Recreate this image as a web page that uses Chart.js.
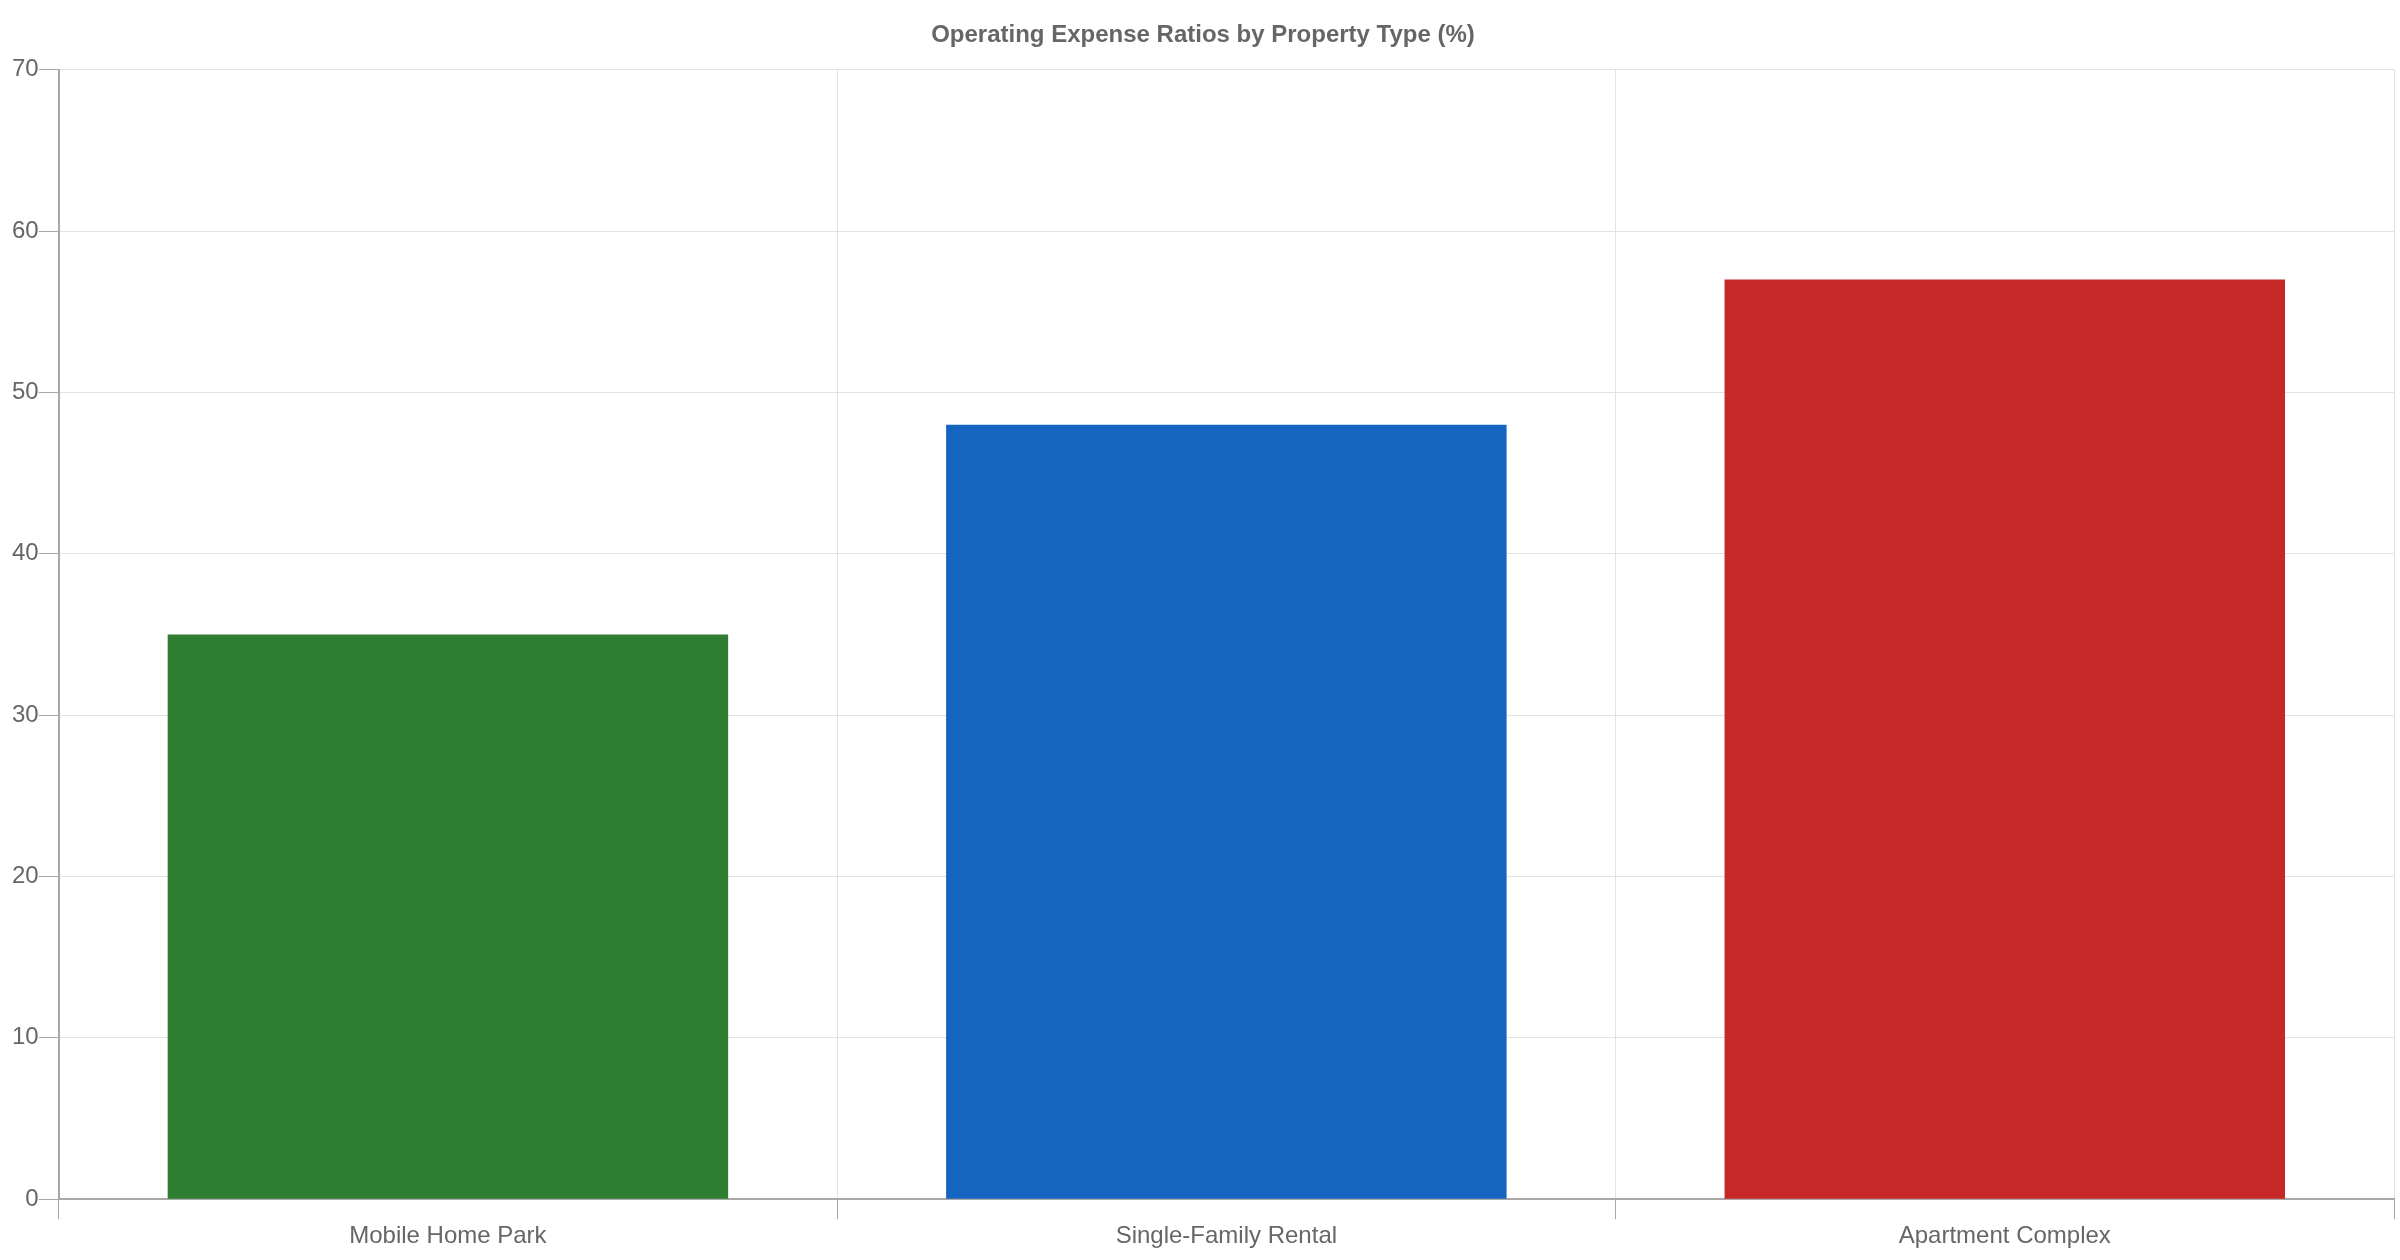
<!DOCTYPE html>
<html>
<head>
<meta charset="utf-8">
<title>Operating Expense Ratios</title>
<script src="https://cdn.jsdelivr.net/npm/chart.js@4.4.1/dist/chart.umd.min.js"></script>
<style>
  html, body { margin: 0; padding: 0; background: #ffffff; }
  #wrap { width: 2400px; height: 1260px; }
</style>
</head>
<body>
<div id="wrap"><canvas id="expenseChart" width="2400" height="1260"></canvas></div>
<script>
'use strict';

// Data
const propertyTypes = ['Mobile Home Park', 'Single-Family Rental', 'Apartment Complex'];
const expenseRatios = [35, 48, 57];
const barColors = ['#2e7d32', '#1565c0', '#c62828'];
const yTicks = [0, 10, 20, 30, 40, 50, 60, 70];

const textColor = '#666666';
const gridColor = '#e2e2e2';
const axisColor = '#a8a8a8';

Chart.defaults.font.family = '"Liberation Sans", Arial, Helvetica, sans-serif';
Chart.defaults.color = textColor;

const ctx = document.getElementById('expenseChart').getContext('2d');

const barChart = new Chart(ctx, {
  type: 'bar',
  data: {
    labels: propertyTypes,
    datasets: [{
      label: 'Operating Expense Ratio (%)',
      data: expenseRatios,
      backgroundColor: barColors,
      borderWidth: 0,
      categoryPercentage: 0.8,
      barPercentage: 0.9
    }]
  },
  options: {
    responsive: false,
    animation: false,
    devicePixelRatio: 1,
    layout: {
      padding: { left: 12, right: 6, top: 0, bottom: 6 }
    },
    plugins: {
      legend: { display: false },
      tooltip: { enabled: false },
      title: {
        display: true,
        text: 'Operating Expense Ratios by Property Type (%)',
        color: textColor,
        font: { size: 24, weight: 'bold' },
        padding: { top: 21, bottom: 20 }
      }
    },
    scales: {
      x: {
        grid: {
          color: gridColor,
          tickLength: 20,
          tickColor: axisColor
        },
        border: { color: axisColor, width: 2 },
        ticks: { font: { size: 24 }, color: textColor, padding: 3 }
      },
      y: {
        min: 0,
        max: 70,
        afterBuildTicks: function(axis) {
          axis.ticks = yTicks.map(v => ({ value: v }));
        },
        grid: {
          color: gridColor,
          tickLength: 20,
          tickColor: axisColor
        },
        border: { color: axisColor, width: 2 },
        ticks: { font: { size: 24 }, color: textColor, padding: 0 }
      }
    }
  }
});
</script>
</body>
</html>
